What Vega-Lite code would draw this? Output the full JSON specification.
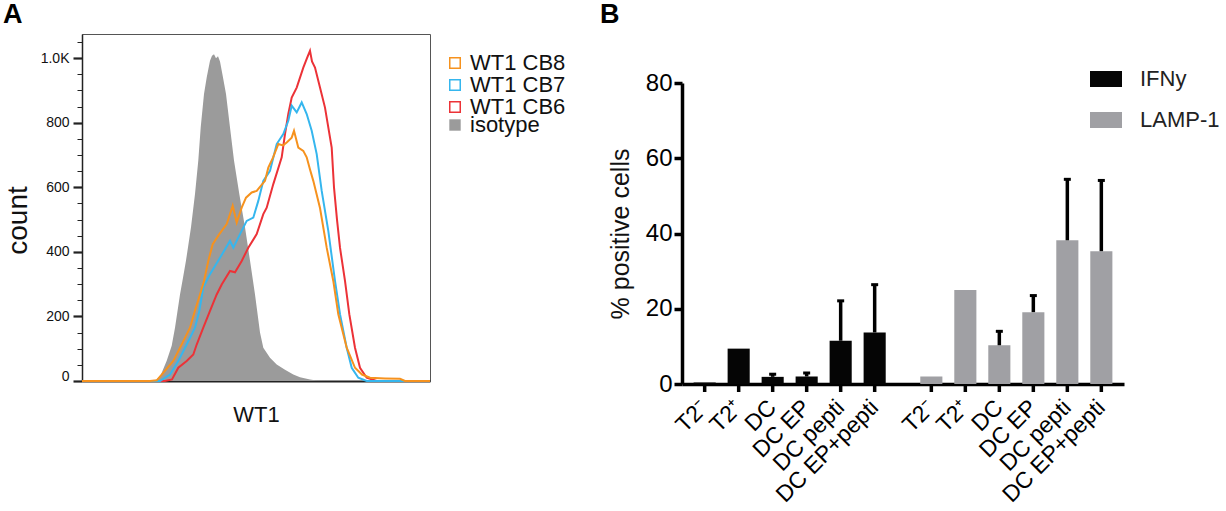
{
  "$schema": "https://vega.github.io/schema/vega-lite/v6.json",
  "padding": {"left": 2, "top": 0, "right": 0, "bottom": 0},
  "config": {
    "font": "Liberation Sans",
    "view": {"stroke": null},
    "axis": {"grid": false, "labelColor": "#111", "titleColor": "#111", "titleFontWeight": "normal"},
    "legend": {"labelColor": "#111"}
  },
  "spacing": 165,
  "resolve": {"scale": {"color": "independent"}, "legend": {"color": "independent"}},
  "hconcat": [
    {
      "width": 348,
      "height": 347,
      "view": {"stroke": "#555", "strokeWidth": 1},
      "title": {"text": "A", "anchor": "start", "frame": "group", "fontSize": 27, "fontWeight": "bold", "color": "#000", "baseline": "alphabetic", "dx": -79, "offset": -16},
      "data": {
        "values": [
          {"sample": "WT1 CB6", "wt1": 0, "count": 0},
          {"sample": "WT1 CB6", "wt1": 83, "count": 0},
          {"sample": "WT1 CB6", "wt1": 90, "count": 5},
          {"sample": "WT1 CB6", "wt1": 96.3, "count": 41},
          {"sample": "WT1 CB6", "wt1": 104.7, "count": 62},
          {"sample": "WT1 CB6", "wt1": 111.3, "count": 82},
          {"sample": "WT1 CB6", "wt1": 114.7, "count": 113},
          {"sample": "WT1 CB6", "wt1": 121.3, "count": 165},
          {"sample": "WT1 CB6", "wt1": 128, "count": 217},
          {"sample": "WT1 CB6", "wt1": 134.7, "count": 268},
          {"sample": "WT1 CB6", "wt1": 139.7, "count": 299},
          {"sample": "WT1 CB6", "wt1": 148, "count": 341},
          {"sample": "WT1 CB6", "wt1": 153, "count": 337},
          {"sample": "WT1 CB6", "wt1": 159.7, "count": 372},
          {"sample": "WT1 CB6", "wt1": 166.3, "count": 413},
          {"sample": "WT1 CB6", "wt1": 174.7, "count": 455},
          {"sample": "WT1 CB6", "wt1": 181.3, "count": 517},
          {"sample": "WT1 CB6", "wt1": 184.7, "count": 537},
          {"sample": "WT1 CB6", "wt1": 191.3, "count": 610},
          {"sample": "WT1 CB6", "wt1": 199.7, "count": 693},
          {"sample": "WT1 CB6", "wt1": 203, "count": 765},
          {"sample": "WT1 CB6", "wt1": 206.3, "count": 827},
          {"sample": "WT1 CB6", "wt1": 209.7, "count": 878},
          {"sample": "WT1 CB6", "wt1": 214.7, "count": 909},
          {"sample": "WT1 CB6", "wt1": 221.3, "count": 971},
          {"sample": "WT1 CB6", "wt1": 225, "count": 1000},
          {"sample": "WT1 CB6", "wt1": 228, "count": 1023},
          {"sample": "WT1 CB6", "wt1": 230, "count": 990},
          {"sample": "WT1 CB6", "wt1": 233, "count": 971},
          {"sample": "WT1 CB6", "wt1": 238, "count": 909},
          {"sample": "WT1 CB6", "wt1": 243, "count": 847},
          {"sample": "WT1 CB6", "wt1": 249.7, "count": 723},
          {"sample": "WT1 CB6", "wt1": 252, "count": 600},
          {"sample": "WT1 CB6", "wt1": 255, "count": 500},
          {"sample": "WT1 CB6", "wt1": 258, "count": 413},
          {"sample": "WT1 CB6", "wt1": 263, "count": 310},
          {"sample": "WT1 CB6", "wt1": 267.3, "count": 207},
          {"sample": "WT1 CB6", "wt1": 273, "count": 103},
          {"sample": "WT1 CB6", "wt1": 278, "count": 41},
          {"sample": "WT1 CB6", "wt1": 284.7, "count": 10},
          {"sample": "WT1 CB6", "wt1": 294.7, "count": 0},
          {"sample": "WT1 CB6", "wt1": 348, "count": 0},
          {"sample": "WT1 CB7", "wt1": 0, "count": 0},
          {"sample": "WT1 CB7", "wt1": 78, "count": 0},
          {"sample": "WT1 CB7", "wt1": 88, "count": 20},
          {"sample": "WT1 CB7", "wt1": 96.3, "count": 62},
          {"sample": "WT1 CB7", "wt1": 104.7, "count": 113},
          {"sample": "WT1 CB7", "wt1": 113, "count": 165},
          {"sample": "WT1 CB7", "wt1": 117.3, "count": 217},
          {"sample": "WT1 CB7", "wt1": 121.3, "count": 290},
          {"sample": "WT1 CB7", "wt1": 128, "count": 331},
          {"sample": "WT1 CB7", "wt1": 138, "count": 382},
          {"sample": "WT1 CB7", "wt1": 148, "count": 434},
          {"sample": "WT1 CB7", "wt1": 151.3, "count": 413},
          {"sample": "WT1 CB7", "wt1": 158, "count": 455},
          {"sample": "WT1 CB7", "wt1": 164.7, "count": 496},
          {"sample": "WT1 CB7", "wt1": 171.3, "count": 506},
          {"sample": "WT1 CB7", "wt1": 176.3, "count": 558},
          {"sample": "WT1 CB7", "wt1": 181.3, "count": 620},
          {"sample": "WT1 CB7", "wt1": 188, "count": 651},
          {"sample": "WT1 CB7", "wt1": 194.7, "count": 734},
          {"sample": "WT1 CB7", "wt1": 201.3, "count": 765},
          {"sample": "WT1 CB7", "wt1": 206.3, "count": 806},
          {"sample": "WT1 CB7", "wt1": 209.7, "count": 853},
          {"sample": "WT1 CB7", "wt1": 214.7, "count": 832},
          {"sample": "WT1 CB7", "wt1": 219.7, "count": 863},
          {"sample": "WT1 CB7", "wt1": 224.7, "count": 827},
          {"sample": "WT1 CB7", "wt1": 229.7, "count": 775},
          {"sample": "WT1 CB7", "wt1": 234.7, "count": 703},
          {"sample": "WT1 CB7", "wt1": 239.7, "count": 589},
          {"sample": "WT1 CB7", "wt1": 246.3, "count": 465},
          {"sample": "WT1 CB7", "wt1": 253, "count": 310},
          {"sample": "WT1 CB7", "wt1": 258, "count": 207},
          {"sample": "WT1 CB7", "wt1": 264.7, "count": 103},
          {"sample": "WT1 CB7", "wt1": 269.7, "count": 41},
          {"sample": "WT1 CB7", "wt1": 276.3, "count": 10},
          {"sample": "WT1 CB7", "wt1": 284.7, "count": 0},
          {"sample": "WT1 CB7", "wt1": 348, "count": 0},
          {"sample": "WT1 CB8", "wt1": 0, "count": 0},
          {"sample": "WT1 CB8", "wt1": 68, "count": 0},
          {"sample": "WT1 CB8", "wt1": 74.7, "count": 2},
          {"sample": "WT1 CB8", "wt1": 79.7, "count": 20},
          {"sample": "WT1 CB8", "wt1": 91.3, "count": 62},
          {"sample": "WT1 CB8", "wt1": 99.7, "count": 113},
          {"sample": "WT1 CB8", "wt1": 108, "count": 165},
          {"sample": "WT1 CB8", "wt1": 113, "count": 218},
          {"sample": "WT1 CB8", "wt1": 118, "count": 268},
          {"sample": "WT1 CB8", "wt1": 122, "count": 310},
          {"sample": "WT1 CB8", "wt1": 126.3, "count": 372},
          {"sample": "WT1 CB8", "wt1": 130.7, "count": 424},
          {"sample": "WT1 CB8", "wt1": 137.3, "count": 455},
          {"sample": "WT1 CB8", "wt1": 144.7, "count": 486},
          {"sample": "WT1 CB8", "wt1": 148, "count": 517},
          {"sample": "WT1 CB8", "wt1": 150.7, "count": 543},
          {"sample": "WT1 CB8", "wt1": 154.7, "count": 491},
          {"sample": "WT1 CB8", "wt1": 159.7, "count": 537},
          {"sample": "WT1 CB8", "wt1": 164, "count": 568},
          {"sample": "WT1 CB8", "wt1": 169.7, "count": 584},
          {"sample": "WT1 CB8", "wt1": 174.7, "count": 589},
          {"sample": "WT1 CB8", "wt1": 179, "count": 605},
          {"sample": "WT1 CB8", "wt1": 183, "count": 620},
          {"sample": "WT1 CB8", "wt1": 186.3, "count": 661},
          {"sample": "WT1 CB8", "wt1": 191, "count": 692},
          {"sample": "WT1 CB8", "wt1": 196.3, "count": 734},
          {"sample": "WT1 CB8", "wt1": 201, "count": 730},
          {"sample": "WT1 CB8", "wt1": 204.7, "count": 739},
          {"sample": "WT1 CB8", "wt1": 209.7, "count": 754},
          {"sample": "WT1 CB8", "wt1": 212, "count": 775},
          {"sample": "WT1 CB8", "wt1": 216.3, "count": 723},
          {"sample": "WT1 CB8", "wt1": 221.3, "count": 713},
          {"sample": "WT1 CB8", "wt1": 224.7, "count": 693},
          {"sample": "WT1 CB8", "wt1": 228, "count": 655},
          {"sample": "WT1 CB8", "wt1": 231.3, "count": 620},
          {"sample": "WT1 CB8", "wt1": 238, "count": 536},
          {"sample": "WT1 CB8", "wt1": 244.7, "count": 413},
          {"sample": "WT1 CB8", "wt1": 251.3, "count": 310},
          {"sample": "WT1 CB8", "wt1": 256.3, "count": 207},
          {"sample": "WT1 CB8", "wt1": 264.7, "count": 103},
          {"sample": "WT1 CB8", "wt1": 273, "count": 41},
          {"sample": "WT1 CB8", "wt1": 280, "count": 20},
          {"sample": "WT1 CB8", "wt1": 288, "count": 10},
          {"sample": "WT1 CB8", "wt1": 303, "count": 8},
          {"sample": "WT1 CB8", "wt1": 318, "count": 7},
          {"sample": "WT1 CB8", "wt1": 323, "count": 0},
          {"sample": "WT1 CB8", "wt1": 348, "count": 0},
          {"sample": "isotype", "wt1": 0, "count": 0},
          {"sample": "isotype", "wt1": 68, "count": 0},
          {"sample": "isotype", "wt1": 74.7, "count": 5},
          {"sample": "isotype", "wt1": 79, "count": 20},
          {"sample": "isotype", "wt1": 84.7, "count": 63},
          {"sample": "isotype", "wt1": 89.7, "count": 109},
          {"sample": "isotype", "wt1": 93, "count": 165},
          {"sample": "isotype", "wt1": 98, "count": 268},
          {"sample": "isotype", "wt1": 101, "count": 320},
          {"sample": "isotype", "wt1": 104, "count": 373},
          {"sample": "isotype", "wt1": 109, "count": 476},
          {"sample": "isotype", "wt1": 113, "count": 579},
          {"sample": "isotype", "wt1": 116.3, "count": 683},
          {"sample": "isotype", "wt1": 118.7, "count": 785},
          {"sample": "isotype", "wt1": 122, "count": 889},
          {"sample": "isotype", "wt1": 124.7, "count": 940},
          {"sample": "isotype", "wt1": 128, "count": 992},
          {"sample": "isotype", "wt1": 130, "count": 1008},
          {"sample": "isotype", "wt1": 132, "count": 1012},
          {"sample": "isotype", "wt1": 134, "count": 1000},
          {"sample": "isotype", "wt1": 136, "count": 1006},
          {"sample": "isotype", "wt1": 138, "count": 990},
          {"sample": "isotype", "wt1": 141, "count": 940},
          {"sample": "isotype", "wt1": 144, "count": 889},
          {"sample": "isotype", "wt1": 148, "count": 785},
          {"sample": "isotype", "wt1": 152, "count": 683},
          {"sample": "isotype", "wt1": 157.3, "count": 579},
          {"sample": "isotype", "wt1": 163, "count": 476},
          {"sample": "isotype", "wt1": 168, "count": 373},
          {"sample": "isotype", "wt1": 173, "count": 268},
          {"sample": "isotype", "wt1": 178, "count": 150},
          {"sample": "isotype", "wt1": 181.3, "count": 103},
          {"sample": "isotype", "wt1": 188, "count": 72},
          {"sample": "isotype", "wt1": 194.7, "count": 51},
          {"sample": "isotype", "wt1": 203, "count": 35},
          {"sample": "isotype", "wt1": 211.3, "count": 20},
          {"sample": "isotype", "wt1": 218, "count": 12},
          {"sample": "isotype", "wt1": 228, "count": 5},
          {"sample": "isotype", "wt1": 236, "count": 1},
          {"sample": "isotype", "wt1": 248, "count": 0},
          {"sample": "isotype", "wt1": 348, "count": 0}
        ]
      },
      "encoding": {
        "x": {
          "field": "wt1",
          "type": "quantitative",
          "scale": {"domain": [0, 348], "nice": false},
          "axis": {"title": "WT1", "titleFontSize": 22, "labels": false, "ticks": false, "domainColor": "#222", "domainWidth": 2, "titlePadding": 23}
        },
        "y": {
          "field": "count",
          "type": "quantitative",
          "scale": {"domain": [0, 1075], "nice": false},
          "axis": {
            "title": "count",
            "titleFontSize": 28,
            "titlePadding": 8,
            "titleY": 186,
            "values": [0, 50, 100, 150, 200, 250, 300, 350, 400, 450, 500, 550, 600, 650, 700, 750, 800, 850, 900, 950, 1000, 1050],
            "labelExpr": "datum.value === 1000 ? '1.0K' : (datum.value % 200 === 0 ? format(datum.value, 'd') : '')",
            "labelFontSize": 14,
            "labelPadding": 4,
            "labelOffset": {"condition": {"test": "datum.value === 0", "value": -5}, "value": 0},
            "tickSize": {"condition": {"test": "datum.value % 200 === 0", "value": 9}, "value": 5},
            "tickWidth": {"condition": {"test": "datum.value % 200 === 0", "value": 2.2}, "value": 1},
            "tickColor": "#222",
            "domainColor": "#222",
            "domainWidth": 1.5
          }
        }
      },
      "layer": [
        {
          "transform": [{"filter": "datum.sample === 'isotype'"}],
          "mark": {"type": "area", "opacity": 1},
          "encoding": {
            "fill": {
              "field": "sample",
              "type": "nominal",
              "scale": {"domain": ["isotype"], "range": ["#9b9b9b"]},
              "legend": {
                "orient": "none",
                "legendX": 362,
                "legendY": 80,
                "title": null,
                "padding": 0,
                "symbolType": "square",
                "symbolSize": 130,
                "symbolStrokeWidth": 0,
                "symbolOpacity": 1,
                "labelFontSize": 22,
                "labelOffset": 4
              }
            }
          }
        },
        {
          "transform": [{"filter": "datum.sample !== 'isotype'"}],
          "mark": {"type": "line", "strokeWidth": 2},
          "encoding": {
            "stroke": {
              "field": "sample",
              "type": "nominal",
              "scale": {"domain": ["WT1 CB8", "WT1 CB7", "WT1 CB6"], "range": ["#f6921e", "#35b6ee", "#ec3237"]},
              "legend": {
                "orient": "none",
                "legendX": 362,
                "legendY": 18,
                "title": null,
                "padding": 0,
                "symbolType": "square",
                "symbolSize": 110,
                "symbolStrokeWidth": 1.5,
                "symbolFillColor": "transparent",
                "labelFontSize": 22,
                "labelOffset": 4,
                "rowPadding": 0
              }
            }
          }
        }
      ]
    },
    {
      "spacing": 6,
      "vconcat": [
        {
          "width": 442,
          "height": 31,
          "title": {"text": "B", "anchor": "start", "frame": "group", "fontSize": 27, "fontWeight": "bold", "color": "#000", "baseline": "alphabetic", "dx": -82, "offset": -16},
          "data": {"values": [{}]},
          "mark": {"type": "text"},
          "encoding": {"text": {"value": ""}}
        },
        {
          "width": 442,
          "height": 301,
          "data": {
            "values": [
              {"marker": "IFNy", "cond": "T2⁻", "value": 0.4},
              {"marker": "IFNy", "cond": "T2⁺", "value": 9.4},
              {"marker": "IFNy", "cond": "DC", "value": 1.9, "upper": 2.6},
              {"marker": "IFNy", "cond": "DC EP", "value": 2.0, "upper": 2.9},
              {"marker": "IFNy", "cond": "DC pepti", "value": 11.5, "upper": 22.1},
              {"marker": "IFNy", "cond": "DC EP+pepti", "value": 13.7, "upper": 26.4},
              {"marker": "LAMP-1", "cond": "T2⁻", "value": 2.0},
              {"marker": "LAMP-1", "cond": "T2⁺", "value": 25.0},
              {"marker": "LAMP-1", "cond": "DC", "value": 10.3, "upper": 14.0},
              {"marker": "LAMP-1", "cond": "DC EP", "value": 19.1, "upper": 23.5},
              {"marker": "LAMP-1", "cond": "DC pepti", "value": 38.2, "upper": 54.4},
              {"marker": "LAMP-1", "cond": "DC EP+pepti", "value": 35.3, "upper": 54.1}
            ]
          },
          "encoding": {
            "x": {
              "field": "marker",
              "type": "nominal",
              "scale": {"paddingInner": 0.1, "paddingOuter": 0.025},
              "axis": {"title": null, "labels": false, "ticks": false, "domainColor": "#000", "domainWidth": 3.5}
            },
            "xOffset": {
              "field": "cond",
              "type": "nominal",
              "sort": ["T2⁻", "T2⁺", "DC", "DC EP", "DC pepti", "DC EP+pepti"],
              "scale": {"paddingInner": 0.35, "paddingOuter": 0.175}
            }
          },
          "layer": [
            {
              "mark": {"type": "bar"},
              "encoding": {
                "y": {
                  "field": "value",
                  "type": "quantitative",
                  "scale": {"domain": [0, 80], "nice": false},
                  "axis": {
                    "title": "% positive cells",
                    "titleFontSize": 25,
                    "titlePadding": 12,
                    "values": [0, 20, 40, 60, 80],
                    "labelFontSize": 24,
                    "labelPadding": 2,
                    "labelColor": "#000",
                    "tickSize": 8,
                    "tickWidth": 3.5,
                    "tickColor": "#000",
                    "domainColor": "#000",
                    "domainWidth": 3.5
                  }
                },
                "color": {
                  "field": "marker",
                  "type": "nominal",
                  "scale": {"domain": ["IFNy", "LAMP-1"], "range": ["#050505", "#a0a0a4"]},
                  "legend": {
                    "orient": "none",
                    "legendX": 408,
                    "legendY": 29,
                    "title": null,
                    "padding": 0,
                    "symbolType": "M-1,-0.5H1V0.5H-1Z",
                    "symbolSize": 1024,
                    "symbolStrokeWidth": 0,
                    "symbolOpacity": 1,
                    "labelFontSize": 22,
                    "labelColor": "#222",
                    "labelOffset": 18,
                    "rowPadding": 14
                  }
                }
              }
            },
            {
              "transform": [{"filter": "datum.upper != null"}],
              "mark": {"type": "rule", "color": "#000", "strokeWidth": 3.5},
              "encoding": {
                "y": {"field": "value", "type": "quantitative"},
                "y2": {"field": "upper"}
              }
            },
            {
              "transform": [{"filter": "datum.upper != null"}],
              "mark": {"type": "tick", "color": "#000", "thickness": 3, "size": 7, "opacity": 1},
              "encoding": {
                "y": {"field": "upper", "type": "quantitative"}
              }
            },
            {
              "mark": {"type": "tick", "orient": "vertical", "color": "#000", "thickness": 3.5, "size": 8, "yOffset": 4, "opacity": 1},
              "encoding": {
                "y": {"datum": 0, "type": "quantitative"}
              }
            },
            {
              "mark": {"type": "text", "angle": 315, "align": "right", "baseline": "middle", "fontSize": 23, "color": "#000", "yOffset": 20},
              "encoding": {
                "y": {"datum": 0, "type": "quantitative"},
                "text": {"field": "cond"}
              }
            }
          ]
        }
      ]
    }
  ]
}
